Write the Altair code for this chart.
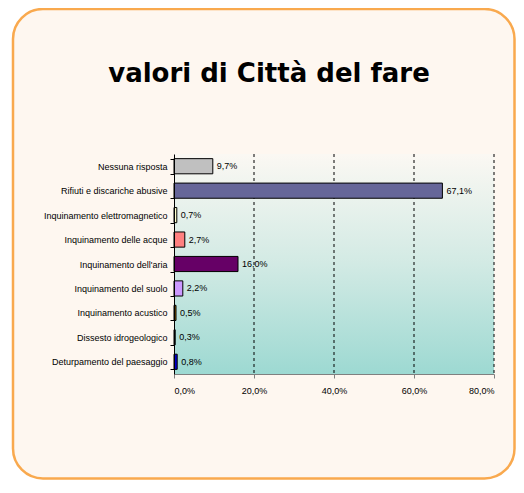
import altair as alt
import pandas as pd

categories = [
    "Nessuna risposta",
    "Rifiuti e discariche abusive",
    "Inquinamento elettromagnetico",
    "Inquinamento delle acque",
    "Inquinamento dell'aria",
    "Inquinamento del suolo",
    "Inquinamento acustico",
    "Dissesto idrogeologico",
    "Deturpamento del paesaggio",
]
values = [9.7, 67.1, 0.7, 2.7, 16.0, 2.2, 0.5, 0.3, 0.8]
bar_colors = ["#C0C0C0", "#666699", "#FFFFCC", "#FF8080", "#660066",
              "#CC99FF", "#996600", "#003333", "#0000CC"]
grid_ticks = [20, 40, 60, 80]
axis_ticks = [0, 20, 40, 60, 80]
title_text = "valori di Città del fare"

W, H = 320, 220

df = pd.DataFrame({
    "cat": categories,
    "val": values,
    "label": [f"{v:.1f}".replace(".", ",") + "%" for v in values],
})
grid_df = pd.DataFrame({"g": grid_ticks})

xscale = alt.Scale(domain=[0, 80], nice=False)
yscale = alt.Scale(domain=categories, paddingInner=0.38, paddingOuter=0.19)

frame = alt.Chart(pd.DataFrame({"a": [0]})).mark_rect(
    fill="#FEF7F0", stroke="#F9A94E", strokeWidth=2.5, cornerRadius=30
).encode(
    x=alt.value(-161), x2=alt.value(340.5), y=alt.value(-145), y2=alt.value(324.5)
)

plotbg = alt.Chart(pd.DataFrame({"a": [0]})).mark_rect(
    fill=alt.Gradient(
        gradient="linear", x1=0, x2=0, y1=0, y2=1,
        stops=[alt.GradientStop(color="#FBF8F3", offset=0),
               alt.GradientStop(color="#D2EAE4", offset=0.5),
               alt.GradientStop(color="#9DD9D2", offset=1)],
    )
).encode(x=alt.value(0), x2=alt.value(W), y=alt.value(0), y2=alt.value(H))

grid = alt.Chart(grid_df).mark_rule(
    color="black", strokeDash=[3, 3], strokeWidth=1
).encode(x=alt.X("g:Q", scale=xscale), y=alt.value(0), y2=alt.value(H))

bars = alt.Chart(df).mark_bar(stroke="black", strokeWidth=1).encode(
    y=alt.Y("cat:N", scale=yscale, sort=categories,
            axis=alt.Axis(title=None, labelFontSize=9, labelColor="black",
                          labelFont="Liberation Sans", tickBand="extent",
                          tickSize=4, tickColor="black", domainColor="black",
                          labelPadding=3, labelLimit=300, zindex=1)),
    x=alt.X("val:Q", scale=xscale,
            axis=alt.Axis(title=None, values=axis_ticks, grid=False,
                          labelExpr="replace(format(datum.value, '.1f'), '.', ',') + '%'",
                          labelFontSize=9, labelColor="black",
                          labelFont="Liberation Sans", domainColor="#808080",
                          tickColor="#808080", tickSize=4, labelPadding=8,
                          zindex=1)),
    color=alt.Color("cat:N", scale=alt.Scale(domain=categories, range=bar_colors),
                    legend=None),
)

texts = alt.Chart(df).mark_text(
    align="left", dx=4, fontSize=9, font="Liberation Sans", color="black"
).encode(
    y=alt.Y("cat:N", scale=yscale, sort=categories),
    x=alt.X("val:Q", scale=xscale),
    text="label:N",
)

title = alt.Chart(pd.DataFrame({"t": [title_text]})).mark_text(
    fontSize=26, fontWeight="bold", font="DejaVu Sans", color="black",
    align="center", baseline="alphabetic"
).encode(x=alt.value(95), y=alt.value(-72), text="t:N")

chart = alt.layer(frame, plotbg, grid, bars, texts, title).properties(
    width=W, height=H,
    autosize=alt.AutoSizeParams(type="none"),
    padding={"left": 166, "top": 146, "right": 22, "bottom": 106},
).configure(background="white").configure_view(stroke=None)

chart.save("out.html", embed_options={"renderer": "svg", "actions": False})
